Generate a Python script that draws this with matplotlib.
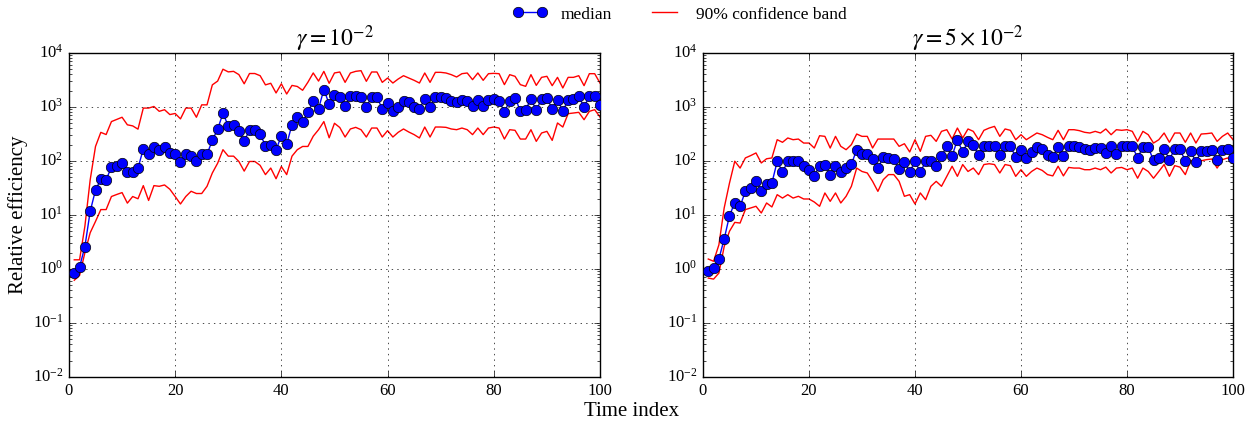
import numpy as np
import matplotlib
matplotlib.use("Agg")
import matplotlib.pyplot as plt

plt.style.use('classic')
plt.rcParams['font.family'] = 'serif'
plt.rcParams['font.serif'] = ['Liberation Serif', 'DejaVu Serif']
plt.rcParams['mathtext.fontset'] = 'stix'
plt.rcParams['figure.facecolor'] = 'white'

t = np.arange(1, 101)

# gamma = 1e-2
left_med = [0.84, 1.09, 2.6, 11.7, 29, 46, 45, 77, 82, 91,
            63, 63, 74, 167, 133, 179, 162, 179, 140, 137,
            97, 137, 123, 100, 137, 135, 240, 390, 760, 450,
            470, 355, 235, 370, 370, 316, 192, 198, 160, 295,
            205, 470, 645, 520, 810, 1270, 930, 2100, 1140, 1700,
            1530, 1030, 1580, 1620, 1530, 1000, 1530, 1530, 920, 1190,
            855, 990, 1310, 1255, 990, 920, 1425, 990, 1510, 1510,
            1470, 1310, 1255, 1350, 1310, 1030, 1370, 1030, 1370, 1410,
            1310, 810, 1310, 1470, 855, 895, 1410, 870, 1410, 1470,
            920, 1370, 830, 1370, 1410, 1580, 990, 1620, 1620, 1070]
left_hi = [1.48, 1.48, 6.2, 45, 186, 339, 309, 537, 589, 646,
           468, 447, 389, 955, 955, 1023, 832, 891, 724, 759,
           603, 955, 955, 646, 1096, 1096, 2570, 3020, 5010, 4470,
           4570, 3980, 2690, 4170, 4170, 3800, 2570, 2750, 1820, 2690,
           1740, 2510, 2400, 2040, 2880, 4270, 3020, 4570, 2750, 4270,
           4450, 2860, 4265, 4575, 4710, 2990, 4450, 4450, 2860, 3440,
           2780, 3300, 3800, 3440, 3120, 2780, 4265, 2860, 4385, 4385,
           4265, 3970, 3595, 4140, 4265, 3210, 4265, 3120, 4140, 4200,
           4140, 2595, 3970, 3700, 2595, 2415, 3970, 2515, 3540, 3700,
           2485, 3540, 2250, 3540, 3540, 3800, 2485, 4140, 4140, 2780]
left_lo = [0.62, 0.76, 2.0, 4.7, 7.6, 12.6, 12.6, 22, 24, 26,
           16.6, 22, 20, 35, 18.6, 35, 34, 36, 30, 22,
           16, 22, 27.5, 25, 25, 34, 60, 91, 162, 123,
           123, 98, 65, 98, 98, 83, 56, 74, 47, 79,
           56, 123, 162, 186, 186, 288, 380, 537, 269, 500,
           417, 278, 392, 420, 380, 278, 408, 408, 278, 365,
           278, 340, 392, 344, 308, 267, 426, 278, 426, 426,
           420, 392, 380, 408, 380, 308, 408, 308, 408, 426,
           408, 255, 380, 370, 255, 255, 380, 231, 330, 354,
           241, 506, 426, 753, 774, 797, 582, 831, 893, 653]

# gamma = 5e-2
right_med = [0.91, 1.03, 1.53, 3.6, 9.7, 17, 14.5, 27.5, 31.6, 43,
             28, 37.5, 39, 98, 63, 98, 98, 98, 80, 67,
             53, 82, 86, 56, 82, 63, 74, 87, 162, 132,
             132, 110, 74, 117, 115, 110, 71, 96, 63, 98,
             62, 98, 98, 80, 123, 187, 123, 250, 147, 230,
             201, 127, 187, 192, 192, 127, 187, 187, 119, 162,
             114, 147, 182, 169, 131, 119, 182, 122, 187, 187,
             182, 169, 162, 174, 174, 141, 187, 135, 187, 187,
             187, 114, 182, 179, 103, 114, 167, 106, 167, 167,
             99, 155, 94, 155, 155, 162, 106, 162, 169, 114]
right_hi = [1.53, 1.39, 2.8, 13.5, 39, 99, 74, 114, 126, 141,
            92, 110, 114, 248, 222, 267, 248, 255, 215, 215,
            174, 294, 286, 174, 286, 187, 162, 201, 316, 286,
            286, 174, 255, 255, 255, 255, 187, 209, 147, 248,
            151, 286, 299, 231, 354, 380, 255, 408, 267, 392,
            354, 248, 370, 408, 438, 286, 392, 370, 248, 307,
            248, 286, 330, 307, 274, 248, 370, 248, 380, 380,
            365, 340, 330, 354, 330, 392, 307, 380, 370, 380,
            354, 231, 354, 307, 215, 248, 330, 222, 330, 330,
            222, 330, 215, 316, 321, 330, 231, 286, 330, 248]
right_lo = [0.68, 0.65, 0.84, 2.6, 5.0, 7.3, 7.1, 12.6, 13.5, 14.5,
            10.9, 16.7, 14.1, 23.8, 20.6, 23.8, 20.6, 22.2, 19.8, 19.8,
            17.4, 14.5, 25.6, 17.9, 25.6, 16.7, 22.2, 34, 74, 64,
            60, 42, 27.4, 45, 56, 56, 42, 22.2, 23.8, 16,
            25.6, 19.2, 34, 42, 34, 52, 80, 52, 86, 64,
            74, 56, 86, 89, 86, 60, 86, 82, 52, 69,
            52, 64, 74, 67, 56, 53, 80, 53, 76, 74,
            74, 69, 69, 74, 69, 77, 60, 74, 76, 69,
            74, 48, 74, 64, 48, 64, 86, 52, 82, 77,
            56, 101, 101, 101, 106, 109, 74, 106, 114, 92]

titles = [r'$\gamma = 10^{-2}$', r'$\gamma = 5\times 10^{-2}$']

fig = plt.figure(figsize=(12.56, 4.21), dpi=100)
ax1 = fig.add_axes([0.0549, 0.1045, 0.4228, 0.7696])
ax2 = fig.add_axes([0.5597, 0.1045, 0.4220, 0.7696])

for ax, med, lo, hi, ttl in [(ax1, left_med, left_lo, left_hi, titles[0]),
                             (ax2, right_med, right_lo, right_hi, titles[1])]:
    band, = ax.plot(t, hi, 'r-', lw=1, label='90% confidence band')
    ax.plot(t, lo, 'r-', lw=1)
    m, = ax.plot(t, med, 'o-', color='b', mfc='b', mec='k', ms=7.5, lw=1,
                 label='median', zorder=3)
    ax.set_yscale('log')
    ax.set_ylim(1e-2, 1e4)
    ax.set_xlim(0, 100)
    ax.set_xticks([0, 20, 40, 60, 80, 100])
    ax.grid(True)
    ax.tick_params(labelsize=12)
    ax.set_title(ttl, fontsize=17)

ax1.set_ylabel('Relative efficiency', fontsize=15)
ax1.yaxis.set_label_coords(-0.077, 0.5)
fig.text(0.503, 0.022, 'Time index', ha='center', va='center', fontsize=15)
fig.legend([m, band], ['median', '90% confidence band'], loc='upper center',
           bbox_to_anchor=(0.541, 1.022), ncol=2, frameon=False, numpoints=2,
           handlelength=2.0, fontsize=12.5, columnspacing=2.0)

fig.savefig('out.png', dpi=100)
